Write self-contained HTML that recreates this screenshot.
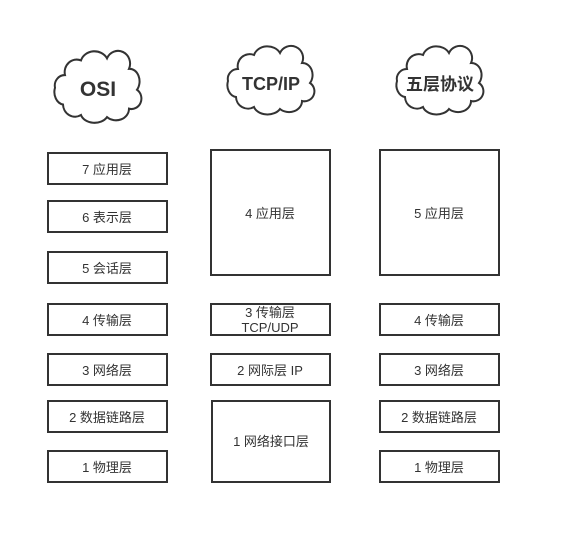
<!DOCTYPE html>
<html><head><meta charset="utf-8"><style>
html,body{margin:0;padding:0;background:#fff;}
svg text{font-family:"Liberation Sans","Noto Sans CJK SC",sans-serif;}
</style></head><body>
<svg width="561" height="544" viewBox="0 0 561 544" xmlns="http://www.w3.org/2000/svg">
<defs>
<path id="cl" d="M14,22 A12,12 0 0 1 30,8 A14,12 0 0 1 56,6 A12,12 0 0 1 78,16 A10,12 0 0 1 86,36 A10,10 0 0 1 78,54 A13,11 0 0 1 56,62 A14,10 0 0 1 30,60 A12,12 0 0 1 12,50 A10,12 0 0 1 4,34 A10,10 0 0 1 14,22 Z" fill="#fff" stroke="#333" stroke-width="2"/>
</defs>
<use href="#cl" transform="translate(51,52) scale(1,1.05)"/>
<use href="#cl" transform="translate(224,47)"/>
<use href="#cl" transform="translate(393,47)"/>
<g font-weight="bold" fill="#333" text-anchor="middle">
<text x="98" y="96" font-size="21">OSI</text>
<text x="271" y="90" font-size="18">TCP/IP</text>
<text x="440" y="90" font-size="17">五层协议</text>
</g>
<g fill="none" stroke="#333" stroke-width="2">
<rect x="48" y="153" width="119" height="31"/>
<rect x="48" y="201" width="119" height="31"/>
<rect x="48" y="252" width="119" height="31"/>
<rect x="48" y="304" width="119" height="31"/>
<rect x="48" y="354" width="119" height="31"/>
<rect x="48" y="401" width="119" height="31"/>
<rect x="48" y="451" width="119" height="31"/>
<rect x="211" y="150" width="119" height="125"/>
<rect x="211" y="304" width="119" height="31"/>
<rect x="211" y="354" width="119" height="31"/>
<rect x="212" y="401" width="118" height="81"/>
<rect x="380" y="150" width="119" height="125"/>
<rect x="380" y="304" width="119" height="31"/>
<rect x="380" y="354" width="119" height="31"/>
<rect x="380" y="401" width="119" height="31"/>
<rect x="380" y="451" width="119" height="31"/>
</g>
<g font-size="13" fill="#333" text-anchor="middle">
<text x="107" y="174">7 应用层</text>
<text x="107" y="222">6 表示层</text>
<text x="107" y="273">5 会话层</text>
<text x="107" y="325">4 传输层</text>
<text x="107" y="375">3 网络层</text>
<text x="107" y="422">2 数据链路层</text>
<text x="107" y="472">1 物理层</text>
<text x="270" y="218">4 应用层</text>
<text x="270" y="317">3 传输层</text>
<text x="270" y="332">TCP/UDP</text>
<text x="270" y="375">2 网际层 IP</text>
<text x="271" y="446">1 网络接口层</text>
<text x="439" y="218">5 应用层</text>
<text x="439" y="325">4 传输层</text>
<text x="439" y="375">3 网络层</text>
<text x="439" y="422">2 数据链路层</text>
<text x="439" y="472">1 物理层</text>
</g>
</svg>
</body></html>
